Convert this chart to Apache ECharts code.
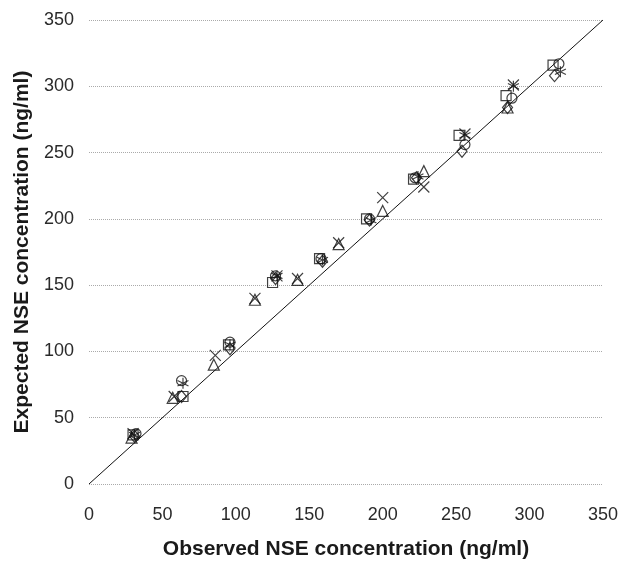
<!DOCTYPE html>
<html lang="en">
<head>
  <meta charset="UTF-8">
  <title>NSE concentration</title>
</head>
<body style="margin:0; background-color:#fff;">
<div id="main" style="width:621px; height:565px;"></div>

<script src="https://cdn.jsdelivr.net/npm/echarts@6/dist/echarts.min.js"></script>

<script>
// observed vs expected NSE (ng/ml), one list per marker type
var squareData = [[30,37],[64,66],[95,105],[125,152],[157,170],[189,200],[221,230],[252,263],[284,293],[316,316]];
var diamondData = [[31,36],[63,66],[96,102],[127,155],[159,168],[191,199],[223,231],[254,251],[285,284],[317,308]];
var circleData = [[32,38],[63,78],[96,107],[127,157],[158,170],[191,200],[222,231],[256,256],[288,291],[320,317]];
var starData = [[31,37],[64,76],[96,105],[128,157],[159,169],[192,199],[224,232],[256,263],[289,300],[321,311]];
var triangleData = [[29,35],[57,65],[85,90],[113,139],[142,154],[170,181],[200,206],[228,236],[285,284]];
var crossData = [[30,38],[58,66],[86,97],[113,140],[128,157],[142,155],[170,182],[200,216],[228,224],[256,264],[289,301]];
var identityLine = [[0,0],[350,350]];

var crossPath = 'path://M0,0L10,10M10,0L0,10';
var starPath = 'path://M5,0L5,10M0,2.5L10,7.5M0,7.5L10,2.5';

var chartDom = document.getElementById('main');
var myChart = echarts.init(chartDom);

function markers(data, symbol, size) {
  return {
    type: 'scatter',
    data: data,
    symbol: symbol,
    symbolSize: size,
    itemStyle: {
      color: 'rgba(255,255,255,0)',
      borderColor: '#111',
      borderWidth: 1.2
    },
    z: 3
  };
}

var option = {
  backgroundColor: '#fff',
  animation: false,
  textStyle: { fontFamily: 'Liberation Sans, Arial, sans-serif' },
  grid: { left: 89, right: 15, top: 20, bottom: 78 },
  xAxis: {
    type: 'value',
    min: 0, max: 350, interval: 50,
    name: 'Observed NSE concentration (ng/ml)',
    nameLocation: 'middle',
    nameGap: 55,
    nameTextStyle: { fontSize: 21, fontWeight: 'bold', color: '#1a1a1a' },
    axisLine: { show: false },
    axisTick: { show: false },
    axisLabel: { fontSize: 18, color: '#2a2a2a', margin: 22 },
    splitLine: { show: false }
  },
  yAxis: {
    type: 'value',
    min: 0, max: 350, interval: 50,
    name: 'Expected NSE concentration (ng/ml)',
    nameLocation: 'middle',
    nameGap: 55,
    nameTextStyle: { fontSize: 21, fontWeight: 'bold', color: '#1a1a1a' },
    axisLine: { show: false },
    axisTick: { show: false },
    axisLabel: { fontSize: 18, color: '#2a2a2a', margin: 15 },
    splitLine: { show: true, lineStyle: { color: '#aaa', type: 'dotted', width: 1 } }
  },
  series: [
    {
      type: 'line',
      data: identityLine,
      symbol: 'none',
      lineStyle: { color: '#111', width: 1 },
      z: 2
    },
    markers(squareData, 'rect', 10),
    markers(diamondData, 'diamond', [10, 12]),
    markers(circleData, 'circle', 10),
    markers(starData, starPath, 11),
    markers(triangleData, 'triangle', [11, 11]),
    markers(crossData, crossPath, 11)
  ]
};

myChart.setOption(option);
</script>
</body>
</html>
